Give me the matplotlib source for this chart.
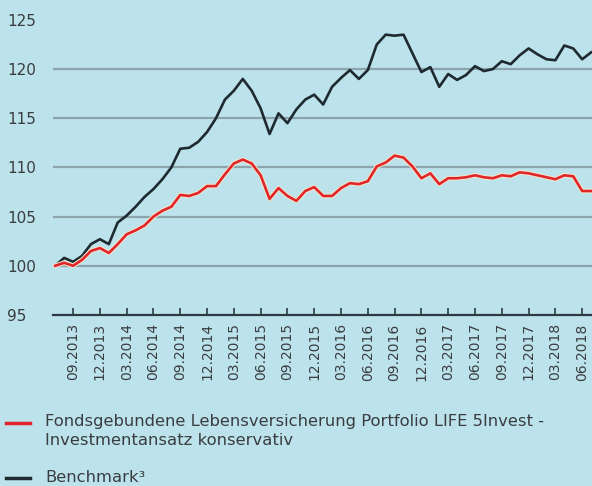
import numpy as np
import matplotlib
matplotlib.use("Agg")
import matplotlib.pyplot as plt
import matplotlib.patheffects as pe
from matplotlib.lines import Line2D

# monthly index 0 = 07.2013 ... 60 = 07.2018
fonds = [100.0, 100.3, 100.0, 100.6, 101.5, 101.8, 101.3, 102.2, 103.2, 103.6,
         104.1, 105.0, 105.6, 106.0, 107.2, 107.1, 107.4, 108.1, 108.1, 109.3,
         110.4, 110.8, 110.4, 109.2, 106.8, 107.9, 107.1, 106.6, 107.6, 108.0,
         107.1, 107.1, 107.9, 108.4, 108.3, 108.6, 110.1, 110.5, 111.2, 111.0,
         110.1, 108.9, 109.4, 108.3, 108.9, 108.9, 109.0, 109.2, 109.0, 108.9,
         109.2, 109.1, 109.5, 109.4, 109.2, 109.0, 108.8, 109.2, 109.1, 107.6,
         107.6]
benchmark = [100.0, 100.8, 100.4, 101.0, 102.2, 102.7, 102.2, 104.4, 105.1, 106.0,
             107.0, 107.8, 108.8, 110.0, 111.9, 112.0, 112.6, 113.6, 115.0, 116.9,
             117.8, 119.0, 117.8, 116.0, 113.4, 115.5, 114.5, 115.9, 116.9, 117.4,
             116.4, 118.2, 119.1, 119.9, 119.0, 119.9, 122.5, 123.5, 123.4, 123.5,
             121.6, 119.7, 120.2, 118.2, 119.5, 118.9, 119.4, 120.3, 119.8, 120.0,
             120.8, 120.5, 121.4, 122.1, 121.5, 121.0, 120.9, 122.4, 122.1, 121.0,
             121.7]
tick_labels = ["09.2013", "12.2013", "03.2014", "06.2014", "09.2014", "12.2014",
               "03.2015", "06.2015", "09.2015", "12.2015", "03.2016", "06.2016",
               "09.2016", "12.2016", "03.2017", "06.2017", "09.2017", "12.2017",
               "03.2018", "06.2018"]
tick_pos = [2 + 3 * k for k in range(len(tick_labels))]
y_ticks = [95, 100, 105, 110, 115, 120, 125]
grid_vals = [100, 105, 110, 115, 120]

label_fonds = "Fondsgebundene Lebensversicherung Portfolio LIFE 5Invest -\nInvestmentansatz konservativ"
label_bench = "Benchmark³"

bg = "#bce2ec"
red = "#e0262a"
dark = "#1f2a30"
txt = "#3a3d3f"

fig = plt.figure(figsize=(5.92, 4.86), dpi=100, facecolor=bg)
ax = fig.add_axes([0.0895, 0.352, 0.9105, 0.607])
ax.set_facecolor(bg)

x = np.arange(len(fonds))
for g in grid_vals:
    ax.axhline(g, color="#8ea4ad", lw=1.6, zorder=1)

ax.plot(x, benchmark, color=dark, lw=1.9, zorder=3)
ax.plot(x, fonds, color=red, lw=1.9, zorder=4,
        path_effects=[pe.Stroke(linewidth=3.4, foreground="#f0e6cc"), pe.Normal()])

ax.set_xlim(-0.25, 60.1)
ax.set_ylim(95, 125)

for s in ["top", "right", "left"]:
    ax.spines[s].set_visible(False)
ax.spines["bottom"].set_color("#2b3a40")
ax.spines["bottom"].set_linewidth(1.6)

ax.set_xticks(tick_pos)
ax.set_xticklabels(tick_labels, rotation=90, fontsize=10, color=txt)
ax.tick_params(axis="x", direction="in", length=5, width=1.2, color="#2b3a40", pad=6)

ax.set_yticks(y_ticks)
ax.set_yticklabels([str(v) for v in y_ticks], fontsize=11, color=txt)
ax.tick_params(axis="y", length=0, pad=33)
for lab in ax.get_yticklabels():
    lab.set_ha("left")

# legend
fig.add_artist(Line2D([0.010, 0.050], [0.130, 0.130], color=red, lw=2.5,
                      transform=fig.transFigure))
fig.text(0.076, 0.148, label_fonds, fontsize=11.8, color=txt, va="top",
         linespacing=1.35, ha="left")
fig.add_artist(Line2D([0.010, 0.050], [0.017, 0.017], color=dark, lw=2.5,
                      transform=fig.transFigure))
fig.text(0.076, 0.017, label_bench, fontsize=11.8, color=txt, va="center")

fig.savefig("out.png", dpi=100, facecolor=bg)
